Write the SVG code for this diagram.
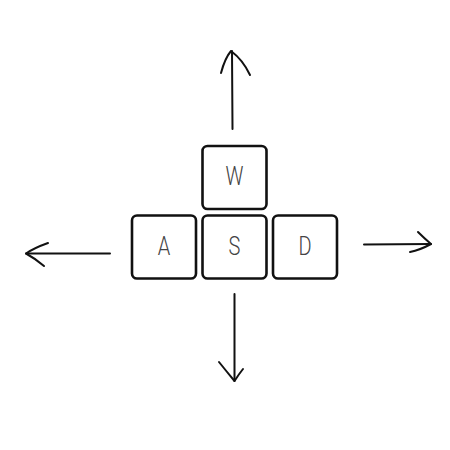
<svg xmlns="http://www.w3.org/2000/svg" width="450" height="450" viewBox="0 0 450 450">
<style>
.key{fill:#fff;stroke:#111;stroke-width:2.6}
.lbl{font-family:Roboto,"Liberation Sans",sans-serif;font-weight:300;font-size:25px;fill:#444;text-anchor:middle;dominant-baseline:central}
.arr{fill:none;stroke:#111;stroke-width:2;stroke-linecap:round;stroke-linejoin:round}
</style>
<rect width="450" height="450" fill="#fff"/>
<g id="key-w"><rect class="key" x="202.5" y="146" width="64" height="63" rx="5"/><text class="lbl" transform="translate(234.5 177) scale(0.8 1)">W</text></g>
<g id="key-a"><rect class="key" x="132" y="215.5" width="64" height="63" rx="5"/><text class="lbl" transform="translate(164 247) scale(0.8 1)">A</text></g>
<g id="key-s"><rect class="key" x="202.5" y="215.5" width="64" height="63" rx="5"/><text class="lbl" transform="translate(234.5 247) scale(0.8 1)">S</text></g>
<g id="key-d"><rect class="key" x="273" y="215.5" width="64" height="63" rx="5"/><text class="lbl" transform="translate(305 247) scale(0.8 1)">D</text></g>
<g id="connectors">
<path class="arr" d="M232.5 129 L232 51"/>
<path class="arr" d="M221 73 Q225 58 231 51 Q243 60 250 75"/>
<path class="arr" d="M110 253.5 L26 253.5"/>
<path class="arr" d="M48 243 Q34 248 26 253.5 Q36 259 44 266"/>
<path class="arr" d="M364 244.5 L431 244"/>
<path class="arr" d="M418 232 Q424 238 431 244 Q420 250 410 252"/>
<path class="arr" d="M234.5 294 L234.5 381"/>
<path class="arr" d="M219 362 Q227 372 234.5 381 Q239 374 243 369"/>
</g>
</svg>
